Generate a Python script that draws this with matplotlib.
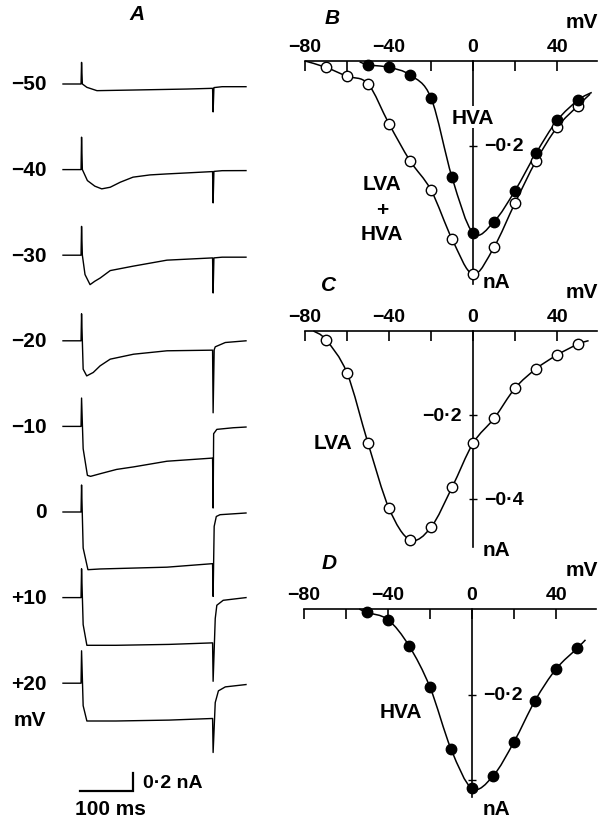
import numpy as np
import matplotlib
matplotlib.use("Agg")
import matplotlib.pyplot as plt
from matplotlib.path import Path
from matplotlib.patches import PathPatch

plt.rcParams['font.family'] = ['Liberation Sans', 'DejaVu Sans']
plt.rcParams['font.weight'] = 'bold'

# ---- A: current traces (time in ms, current in nA, relative to holding level)
step_labels = ["\u221250", "\u221240", "\u221230", "\u221220", "\u221210", "0", "+10", "+20"]

t_m50 = [0, 34, 35, 36.5, 45, 64, 132, 233, 282, 283, 284.5, 300, 345]
i_m50 = [0, 0, 0.24, 0.0, -0.037, -0.074, -0.067, -0.056, -0.048, -0.31, -0.04, -0.03, -0.03]

t_m40 = [0, 34, 35, 36.5, 46, 60, 73, 89, 108, 132, 164, 196, 233, 282, 283, 284.5, 300, 345]
i_m40 = [0, 0, 0.36, 0.0, -0.122, -0.184, -0.214, -0.196, -0.14, -0.084, -0.059, -0.048,
         -0.037, -0.022, -0.37, -0.02, -0.012, -0.011]

t_m30 = [0, 34, 35, 36.5, 41.5, 51, 60, 70, 89, 132, 196, 282, 283, 284.5, 300, 345]
i_m30 = [0, 0, 0.32, 0.0, -0.215, -0.327, -0.289, -0.254, -0.171, -0.122, -0.055, -0.03,
         -0.42, -0.03, -0.022, -0.022]

t_m20 = [0, 34, 35, 38, 44.7, 57, 70, 89, 133, 196, 282, 283, 285, 287, 306, 345]
i_m20 = [0, 0, 0.30, -0.315, -0.39, -0.352, -0.278, -0.204, -0.149, -0.111, -0.104, -0.80,
         -0.10, -0.067, -0.019, 0.0]

t_m10 = [0, 34, 35, 38, 46, 52, 70, 101, 133, 196, 282, 283, 284, 290, 321, 345]
i_m10 = [0, 0, 0.315, -0.248, -0.544, -0.555, -0.526, -0.478, -0.45, -0.387, -0.352, -0.907,
         -0.081, -0.033, -0.015, -0.007]

t_0 = [0, 34, 35, 38, 47, 70, 133, 196, 282, 283, 285, 289, 296, 345]
i_0 = [0, 0, 0.30, -0.4, -0.641, -0.633, -0.623, -0.613, -0.574, -0.938, -0.16, -0.05, -0.03, -0.011]

t_p10 = [0, 34, 35, 38, 45, 100, 200, 282, 283, 287, 290, 302, 345]
i_p10 = [0, 0, 0.32, -0.3, -0.53, -0.53, -0.52, -0.503, -0.93, -0.233, -0.085, -0.03, 0.0]

t_p20 = [0, 34, 35, 38, 45, 100, 200, 282, 283, 287, 293, 306, 345]
i_p20 = [0, 0, 0.36, -0.25, -0.42, -0.42, -0.41, -0.392, -0.77, -0.215, -0.085, -0.041, -0.015]

traces_t = [t_m50, t_m40, t_m30, t_m20, t_m10, t_0, t_p10, t_p20]
traces_i = [i_m50, i_m40, i_m30, i_m20, i_m10, i_0, i_p10, i_p20]

# ---- B, C, D: I-V relations (mV, nA)
v_b_open = [-70, -60, -50, -40, -30, -20, -10, 0, 10, 20, 30, 40, 50]
i_b_open = [-0.015, -0.036, -0.054, -0.148, -0.235, -0.304, -0.419, -0.502, -0.438,
            -0.334, -0.235, -0.156, -0.105]
b_open_fit_ends = [(-80, 0.0), (55.7, -0.078)]

v_b_filled = [-50, -40, -30, -20, -10, 0, 10, 20, 30, 40, 50]
i_b_filled = [-0.009, -0.015, -0.033, -0.087, -0.274, -0.405, -0.378, -0.305, -0.217,
              -0.140, -0.092]
b_filled_fit_ends = [(-54, -0.002), (56.5, -0.074)]

v_c = [-70, -60, -50, -40, -30, -20, -10, 0, 10, 20, 30, 40, 50]
i_c = [-0.021, -0.100, -0.267, -0.422, -0.497, -0.467, -0.372, -0.267, -0.208, -0.136,
       -0.090, -0.057, -0.031]
c_fit_ends = [(-76, 0.0), (55, -0.023)]

v_d = [-50, -40, -30, -20, -10, 0, 10, 20, 30, 40, 50]
i_d = [-0.008, -0.025, -0.086, -0.183, -0.327, -0.419, -0.390, -0.310, -0.214, -0.140, -0.092]
d_fit_ends = [(-53.7, 0.0), (54, -0.072)]

xticks = [-80, -60, -40, -20, 0, 20, 40]
xticklabels = ["\u221280", "", "\u221240", "", "0", "", "40"]

# ---- figure, laid out in pixels (y measured from top)
W, H = 599, 820
fig = plt.figure(figsize=(W / 100, H / 100), dpi=100)
FS = 15
TFS = 14


def px_axes(x0, y0, x1, y1):
    return fig.add_axes([x0 / W, 1 - y1 / H, (x1 - x0) / W, (y1 - y0) / H])


def ftext(x, y, s, **kw):
    kw.setdefault("fontsize", FS)
    kw.setdefault("ha", "center")
    kw.setdefault("va", "center")
    fig.text(x / W, 1 - y / H, s, **kw)


def smooth_path(xs, ys):
    pts = np.column_stack([xs, ys]).astype(float)
    n = len(pts)
    verts = [pts[0]]
    codes = [Path.MOVETO]
    for k in range(n - 1):
        p0 = pts[k - 1] if k > 0 else pts[k]
        p1, p2 = pts[k], pts[k + 1]
        p3 = pts[k + 2] if k + 2 < n else pts[k + 1]
        verts += [p1 + (p2 - p0) / 6, p2 - (p3 - p1) / 6, p2]
        codes += [Path.CURVE4] * 3
    return Path(verts, codes)


# panel A
base0, spacing, px_per_nA = 85, 85.6, 90.0
axA = px_axes(63, 50, 246, 800)
axA.set_xlim(0, 345)
axA.set_ylim(-(800 - base0) / px_per_nA, (base0 - 50) / px_per_nA)
axA.axis("off")
for k, (t, i) in enumerate(zip(traces_t, traces_i)):
    off = -k * spacing / px_per_nA
    axA.plot(t, np.array(i) + off, color="k", lw=1.0, clip_on=False)
    ftext(47, base0 + k * spacing, step_labels[k], ha="right")
ftext(46, base0 + 7 * spacing + 36, "mV", ha="right")

# scale bar: 100 ms, 0.2 nA
sb_y = -(791.7 - base0) / px_per_nA
axA.plot([32, 132, 132], [sb_y, sb_y, sb_y + 0.2], color="k", lw=1.6,
         solid_joinstyle="miter", clip_on=False)
ftext(143, 784, "0\u00b72 nA", ha="left", fontsize=14)
ftext(110, 810, "100 ms")
ftext(137, 15, "A", style="italic", fontsize=15)


def iv_axes(box, ybottom, yticks):
    ax = px_axes(*box)
    ax.set_xlim(-80, 59)
    ax.set_ylim(ybottom, 0)
    ax.spines["bottom"].set_visible(False)
    ax.spines["right"].set_visible(False)
    ax.spines["top"].set_linewidth(1.2)
    ax.spines["left"].set_position(("data", 0))
    ax.spines["left"].set_linewidth(1.2)
    ax.xaxis.tick_top()
    ax.set_xticks(xticks)
    ax.set_xticklabels(xticklabels)
    ax.tick_params(axis="x", direction="in", length=7, width=1.2, pad=4,
                   labelsize=TFS)
    ax.set_yticks(yticks)
    ax.tick_params(axis="y", direction="inout", length=6, width=1.0,
                   labelleft=False)
    return ax


def iv_curve(ax, v, i, ends, filled):
    xs = [ends[0][0]] + list(v) + [ends[1][0]]
    ys = [ends[0][1]] + list(i) + [ends[1][1]]
    ax.add_patch(PathPatch(smooth_path(xs, ys), fill=False, lw=1.1, ec="k",
                           clip_on=False, zorder=2))
    ax.plot(v, i, "o", ms=7.5, mew=1.0, mec="k", mfc="k" if filled else "white",
            ls="none", clip_on=False, zorder=3)


def ylab(ax, y, s, side):
    dx = 8 if side == "right" else -8
    ax.annotate(s, (0, y), xytext=(dx, 0), textcoords="offset points",
                ha="left" if side == "right" else "right", va="center",
                fontsize=TFS)


# panel B
axB = iv_axes((305, 62, 597, 285), -0.525, [-0.2])
iv_curve(axB, v_b_open, i_b_open, b_open_fit_ends, False)
iv_curve(axB, v_b_filled, i_b_filled, b_filled_fit_ends, True)
ylab(axB, -0.2, "\u22120\u00b72", "right")
ftext(473, 118, "HVA", bbox=dict(fc="white", ec="none", pad=1))
ftext(382, 185, "LVA")
ftext(382, 211, "+")
ftext(382, 234, "HVA")
ftext(332, 19, "B", style="italic", fontsize=15)
ftext(582, 22, "mV")
ftext(497, 283, "nA")

# panel C
axC = iv_axes((305, 332, 597, 548), -0.514, [-0.2, -0.4])
iv_curve(axC, v_c, i_c, c_fit_ends, False)
ylab(axC, -0.2, "\u22120\u00b72", "left")
ylab(axC, -0.4, "\u22120\u00b74", "right")
ftext(333, 444, "LVA")
ftext(329, 286, "C", style="italic", fontsize=15)
ftext(582, 292, "mV")
ftext(497, 550, "nA")

# panel D
axD = iv_axes((304, 610, 596, 798), -0.439, [-0.2, -0.4])
iv_curve(axD, v_d, i_d, d_fit_ends, True)
ylab(axD, -0.2, "\u22120\u00b72", "right")
ftext(401, 713, "HVA")
ftext(329, 564, "D", style="italic", fontsize=15)
ftext(582, 571, "mV")
ftext(497, 810, "nA")

fig.savefig("out.png", dpi=100)
